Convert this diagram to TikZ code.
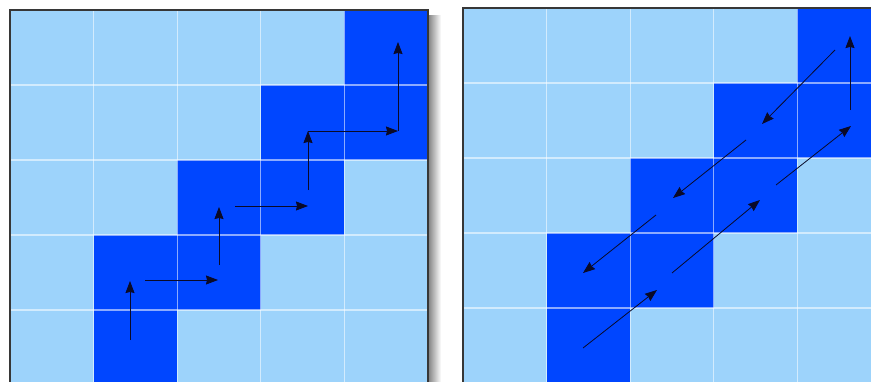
\documentclass[tikz,border=0pt]{standalone}
\usetikzlibrary{arrows.meta}
\definecolor{lightcell}{RGB}{157,211,251}
\definecolor{darkcell}{RGB}{0,70,255}
\definecolor{framegray}{RGB}{55,55,55}
\definecolor{arrowink}{RGB}{10,10,40}
\tikzset{
  light/.style={fill=lightcell},
  dark/.style={fill=darkcell},
  gridline/.style={draw=white,opacity=0.55,line width=1.2pt},
  frame/.style={draw=framegray,line width=1.2pt},
  move/.style={draw=arrowink,line width=0.8pt,-{Stealth[length=12pt,width=9pt,inset=1pt]}},
}
\begin{document}
\begin{tikzpicture}[x=1pt,y=-1pt]
\useasboundingbox (0,0) rectangle (871,381);
\clip (0,0) rectangle (871,381);
\fill[white] (0,0) rectangle (871,381);
% shadow of left board
\shade[left color=black!50,right color=white] (428,15) rectangle (441,381);
% boards
\foreach \ox/\oy in {10/10,463/8}{
  \begin{scope}[shift={(\ox,\oy)}]
    \foreach \r in {0,...,4}
      \foreach \c in {0,...,4}
        \fill[light] (\c*83.6,\r*75) rectangle ({(\c+1)*83.6},{(\r+1)*75});
    \foreach \c/\r in {4/0,3/1,4/1,2/2,3/2,1/3,2/3,1/4}
      \fill[dark] (\c*83.6,\r*75) rectangle ({(\c+1)*83.6},{(\r+1)*75});
    \foreach \c in {1,...,4}
      \draw[gridline] (\c*83.6,0) -- (\c*83.6,375);
    \foreach \r in {1,...,4}
      \draw[gridline] (0,\r*75) -- (418,\r*75);
  \end{scope}
}
% frames
\draw[frame] (10,400) -- (10,10) -- (428,10) -- (428,400);
\draw[frame] (463,400) -- (463,8) -- (880,8);
% left board path
\coordinate (a0) at (130,340);
\coordinate (a1) at (130,281);
\coordinate (b0) at (145,280);
\coordinate (b1) at (218,280);
\coordinate (c0) at (219,265);
\coordinate (c1) at (219,207);
\coordinate (d0) at (235,206);
\coordinate (d1) at (308,206);
\coordinate (e0) at (308,190);
\coordinate (e1) at (308,131);
\coordinate (f1) at (398,131);
\coordinate (g1) at (398,42);
\draw[move] (a0) -- (a1);
\draw[move] (b0) -- (b1);
\draw[move] (c0) -- (c1);
\draw[move] (d0) -- (d1);
\draw[move] (e0) -- (e1);
\draw[move] (e1) -- (f1);
\draw[move] (f1) -- (g1);
% right board paths
\coordinate (p0) at (583,348);
\coordinate (p1) at (657,290);
\coordinate (q0) at (672,273);
\coordinate (q1) at (760,200);
\coordinate (s0) at (776,185);
\coordinate (s1) at (851,126);
\coordinate (t0) at (850,110);
\coordinate (t1) at (850,36);
\coordinate (u0) at (835,50);
\coordinate (u1) at (762,124);
\coordinate (v0) at (746,140);
\coordinate (v1) at (673,198);
\coordinate (w0) at (656,215);
\coordinate (w1) at (583,273);
\draw[move] (p0) -- (p1);
\draw[move] (q0) -- (q1);
\draw[move] (s0) -- (s1);
\draw[move] (t0) -- (t1);
\draw[move] (u0) -- (u1);
\draw[move] (v0) -- (v1);
\draw[move] (w0) -- (w1);
\end{tikzpicture}
\end{document}
